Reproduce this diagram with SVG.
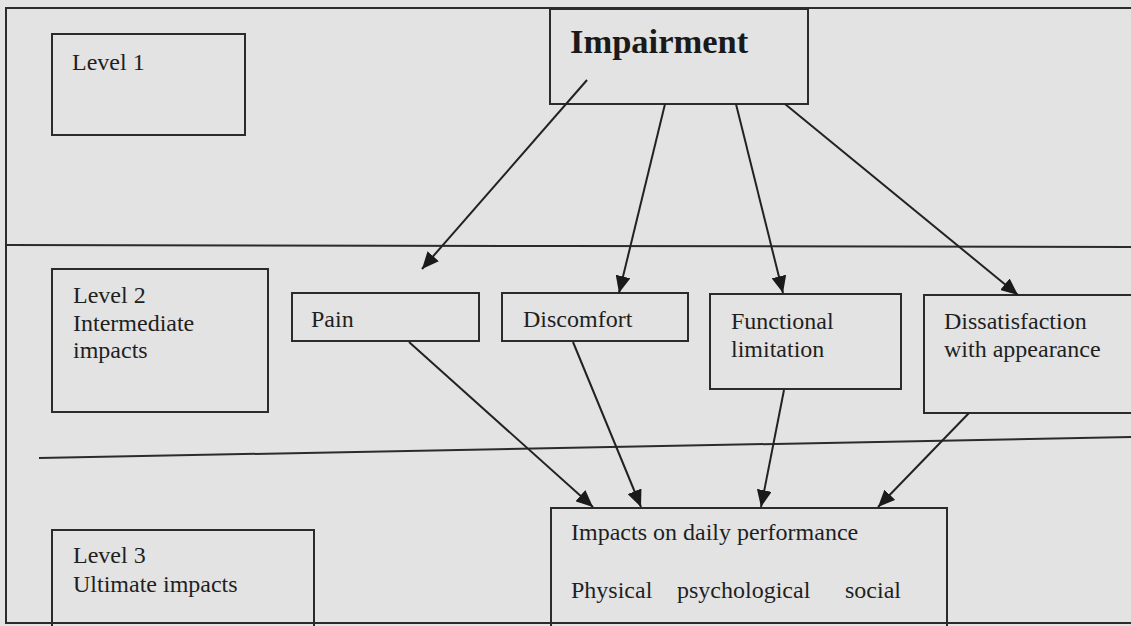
<svg xmlns="http://www.w3.org/2000/svg" width="1131" height="626" viewBox="0 0 1131 626">
  <style>
    .bg { fill: #e3e3e3; }
    .box { fill: none; stroke: #2b2b2b; stroke-width: 2; }
    .rule { fill: none; stroke: #2b2b2b; stroke-width: 2; }
    .conn { fill: none; stroke: #222222; stroke-width: 2; marker-end: url(#arrow); }
    .t { font-family: "Liberation Serif", "Times New Roman", serif; font-size: 24px; fill: #1f1f1f; }
    .tb { font-family: "Liberation Serif", "Times New Roman", serif; font-size: 34.5px; font-weight: bold; fill: #1a1a1a; }
  </style>
  <defs>
    <marker id="arrow" markerUnits="userSpaceOnUse" markerWidth="17" markerHeight="15" refX="17" refY="7.5" orient="auto">
      <path d="M0,0 L17,7.5 L0,15 z" fill="#1a1a1a"/>
    </marker>
  </defs>
  <rect class="bg" x="0" y="0" width="1131" height="626"/>

  <g id="frame">
    <polyline class="rule" points="1135,8 6,8 6,623 1135,623"/>
    <polyline class="rule" points="6,245 560,246 1135,247"/>
    <line class="rule" x1="39" y1="458" x2="1135" y2="437"/>
  </g>

  <g id="level1">
    <rect class="box" x="52" y="34" width="193" height="101"/>
    <text class="t" x="72" y="70">Level 1</text>
  </g>

  <g id="impairment">
    <rect class="box" x="550" y="9" width="258" height="95"/>
    <text class="tb" x="570" y="53">Impairment</text>
  </g>

  <g id="level2">
    <rect class="box" x="52" y="269" width="216" height="143"/>
    <text class="t" x="73" y="303">Level 2</text>
    <text class="t" x="73" y="331">Intermediate</text>
    <text class="t" x="73" y="358">impacts</text>
  </g>

  <g id="pain">
    <rect class="box" x="292" y="293" width="187" height="48"/>
    <text class="t" x="311" y="327">Pain</text>
  </g>

  <g id="discomfort">
    <rect class="box" x="502" y="293" width="186" height="48"/>
    <text class="t" x="523" y="327">Discomfort</text>
  </g>

  <g id="functional">
    <rect class="box" x="710" y="294" width="191" height="95"/>
    <text class="t" x="731" y="329">Functional</text>
    <text class="t" x="731" y="357">limitation</text>
  </g>

  <g id="dissatisfaction">
    <rect class="box" x="924" y="295" width="215" height="118"/>
    <text class="t" x="944" y="329">Dissatisfaction</text>
    <text class="t" x="944" y="357">with appearance</text>
  </g>

  <g id="level3">
    <rect class="box" x="52" y="530" width="262" height="100"/>
    <text class="t" x="73" y="563">Level 3</text>
    <text class="t" x="73" y="592">Ultimate impacts</text>
  </g>

  <g id="impacts">
    <rect class="box" x="551" y="508" width="396" height="122"/>
    <text class="t" x="571" y="540">Impacts on daily performance</text>
    <text class="t" y="598"><tspan x="571">Physical</tspan><tspan x="677">psychological</tspan><tspan x="845">social</tspan></text>
  </g>

  <g id="connectors">
    <line class="conn" x1="587" y1="80" x2="422" y2="269"/>
    <line class="conn" x1="665" y1="104" x2="619" y2="293"/>
    <line class="conn" x1="736" y1="104" x2="783" y2="293"/>
    <line class="conn" x1="785" y1="104" x2="1018" y2="295"/>
    <line class="conn" x1="409" y1="342" x2="593" y2="507"/>
    <line class="conn" x1="573" y1="342" x2="641" y2="507"/>
    <line class="conn" x1="784" y1="390" x2="761" y2="507"/>
    <line class="conn" x1="969" y1="413" x2="878" y2="507"/>
  </g>
</svg>
